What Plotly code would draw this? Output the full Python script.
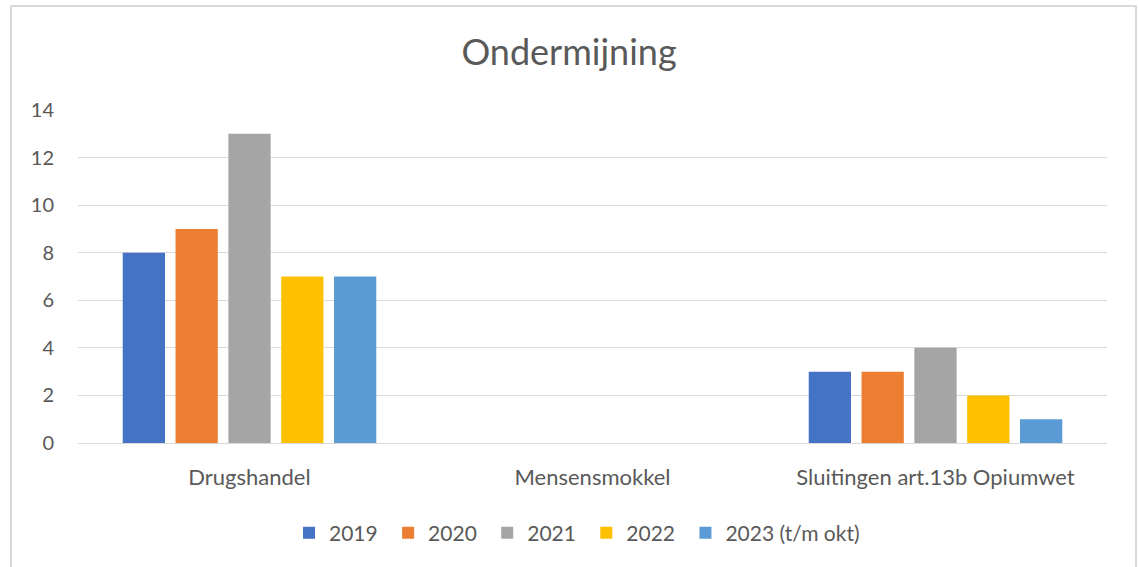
import plotly.graph_objects as go

categories = ["Drugshandel", "Mensensmokkel", "Sluitingen art.13b Opiumwet"]
series_names = ["2019", "2020", "2021", "2022", "2023 (t/m okt)"]
v2019 = [8, 0, 3]
v2020 = [9, 0, 3]
v2021 = [13, 0, 4]
v2022 = [7, 0, 2]
v2023 = [7, 0, 1]
colors = ["#4472C4", "#ED7D31", "#A5A5A5", "#FFC000", "#5B9BD5"]

fig = go.Figure()
all_vals = [v2019, v2020, v2021, v2022, v2023]
for i, (name, vals, col) in enumerate(zip(series_names, all_vals, colors)):
    pad = "\u00a0" if i < len(series_names) - 1 else ""
    fig.add_trace(go.Bar(name=name + pad, x=categories, y=vals,
                         marker=dict(color=col, line=dict(width=0))))

font_family = "Lato, 'Open Sans', sans-serif"
W, H = 1138, 567
L, R, T, B = 78, 31, 110, 124
pw, ph = W - L - R, H - T - B

fig.update_layout(
    width=W, height=H,
    margin=dict(l=L, r=R, t=T, b=B),
    paper_bgcolor="white", plot_bgcolor="white",
    barmode="group", bargap=0.23, bargroupgap=0.2,
    font=dict(family=font_family, color="#595959", size=16),
    title=dict(text="Ondermijning", x=0.5, xanchor="center", y=1 - 52 / H, yanchor="middle",
               font=dict(size=36, color="#595959", family=font_family)),
    legend=dict(orientation="h", x=(303 - 14 - L) / pw, xanchor="left", y=-(533 - (T + ph)) / ph,
                yanchor="middle", font=dict(size=21, color="#595959"), itemwidth=30,
                traceorder="normal"),
    showlegend=True,
)
fig.update_yaxes(range=[0, 14], dtick=2, showgrid=True, gridcolor="#D9D9D9", gridwidth=1,
                 zeroline=True, zerolinecolor="#D9D9D9", zerolinewidth=1, showline=False,
                 ticks="", ticklabelstandoff=23, tickfont=dict(size=20, color="#595959"))
fig.update_xaxes(showgrid=False, showline=False, ticks="", ticklabelstandoff=19,
                 tickfont=dict(size=22, color="#595959"))

fig.add_shape(type="rect", xref="paper", yref="paper",
              x0=(11 - L) / pw, x1=(1136 - L) / pw,
              y0=-(575 - (T + ph)) / ph, y1=((T + ph) - 6) / ph,
              line=dict(color="#D9D9D9", width=2), fillcolor="rgba(0,0,0,0)", layer="below")

fig.write_html("out.html", config={"displayModeBar": False},
               post_script="document.body.style.margin='0';")
